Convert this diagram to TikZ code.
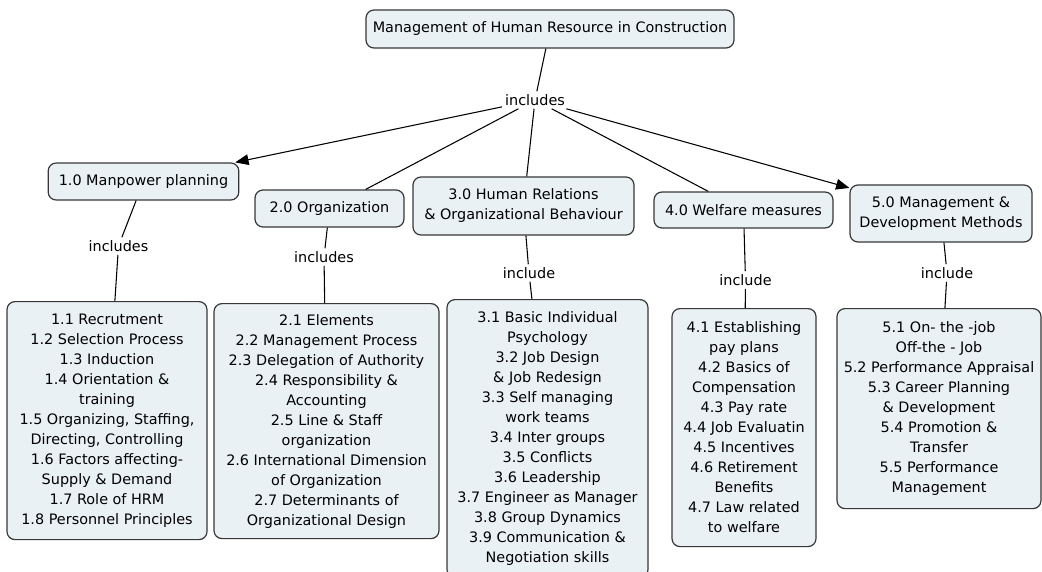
\documentclass[tikz,border=0pt]{standalone}
\usepackage{fontspec}
\setmainfont{DejaVu Sans}
\usetikzlibrary{positioning,calc,arrows.meta}
\definecolor{boxfill}{RGB}{234,241,245}
\definecolor{boxline}{RGB}{55,55,55}
\tikzstyle{concept}=[draw=boxline,fill=boxfill,rounded corners=6pt,line width=0.9pt,align=center,inner sep=3pt,font=\fontsize{10.8pt}{15pt}\selectfont]
\tikzstyle{link}=[inner sep=2pt,font=\fontsize{10.8pt}{15pt}\selectfont]

\begin{document}
\begin{tikzpicture}[x=0.75pt,y=-0.75pt,>={Triangle[length=10pt,width=8pt]},line width=0.8pt]
  \useasboundingbox (0,0) rectangle (1042,571);

  \node [concept, minimum width=276pt, minimum height=28.5pt] at (550, 29) (title) {Management of Human Resource in Construction};
  \node [link] at (535, 100) (inc0) {includes};

  % main topics
  \node [concept, minimum width=143pt, minimum height=27.75pt] at (143.5, 181.5) (c1) {1.0 Manpower planning};
  \node [concept, minimum width=111.75pt, minimum height=27.75pt] at (329.5, 208.5) (c2) {2.0 Organization};
  \node [concept, minimum width=165.75pt, minimum height=43.5pt] at (523.5, 206) (c3) {3.0 Human Relations\\\& Organizational Behaviour};
  \node [concept, minimum width=134.25pt, minimum height=27pt] at (743.5, 210) (c4) {4.0 Welfare measures};
  \node [concept, minimum width=136.5pt, minimum height=42.75pt] at (941, 213.5) (c5) {5.0 Management \&\\Development Methods};

  % linking phrases
  \node [link] at (118.5, 246) (l1) {includes};
  \node [link] at (324, 257) (l2) {includes};
  \node [link] at (529, 273) (l3) {include};
  \node [link] at (745.5, 280) (l4) {include};
  \node [link] at (947, 273) (l5) {include};

  % details
  \node [concept, minimum width=150pt, minimum height=178.5pt, anchor=north] at (107, 301) (d1) {1.1 Recrutment\\1.2 Selection Process\\1.3 Induction\\1.4 Orientation \&\\training\\1.5 Organizing, Staffing,\\Directing, Controlling\\1.6 Factors affecting-\\Supply \& Demand\\1.7 Role of HRM\\1.8 Personnel Principles};
  \node [concept, minimum width=168.75pt, minimum height=176.25pt, anchor=north] at (326.5, 303) (d2) {2.1 Elements\\2.2 Management Process\\2.3 Delegation of Authority\\2.4 Responsibility \&\\Accounting\\2.5 Line \& Staff\\organization\\2.6 International Dimension\\of Organization\\2.7 Determinants of\\Organizational Design};
  \node [concept, minimum width=150.75pt, minimum height=208.5pt, anchor=north] at (547.5, 299) (d3) {3.1 Basic Individual\\Psychology\\3.2 Job Design\\\& Job Redesign\\3.3 Self managing\\work teams\\3.4 Inter groups\\3.5 Conflicts\\3.6 Leadership\\3.7 Engineer as Manager\\3.8 Group Dynamics\\3.9 Communication \&\\Negotiation skills};
  \node [concept, minimum width=108pt, minimum height=178.5pt, anchor=north] at (744, 308) (d4) {4.1 Establishing\\pay plans\\4.2 Basics of\\Compensation\\4.3 Pay rate\\4.4 Job Evaluatin\\4.5 Incentives\\4.6 Retirement\\Benefits\\4.7 Law related\\to welfare};
  \node [concept, minimum width=153pt, minimum height=150pt, anchor=north] at (939, 308) (d5) {5.1 On- the -job\\Off-the - Job\\5.2 Performance Appraisal\\5.3 Career Planning\\\& Development\\5.4 Promotion \&\\Transfer\\5.5 Performance\\Management};

  \draw (title) -- (inc0);
  \draw [->] (inc0) -- (c1);
  \draw (inc0) -- (c2);
  \draw (inc0) -- (c3);
  \draw (inc0) -- (c4);
  \draw [->] (inc0) -- (c5);

  \draw (c1) -- (l1);
  \draw (l1) -- (d1);
  \draw (c2) -- (l2);
  \draw (l2) -- (d2);
  \draw (c3) -- (l3);
  \draw (l3) -- (d3);
  \draw (c4) -- (l4);
  \draw (l4) -- (d4);
  \draw (c5) -- (l5);
  \draw (l5) -- (d5);
\end{tikzpicture}
\end{document}
